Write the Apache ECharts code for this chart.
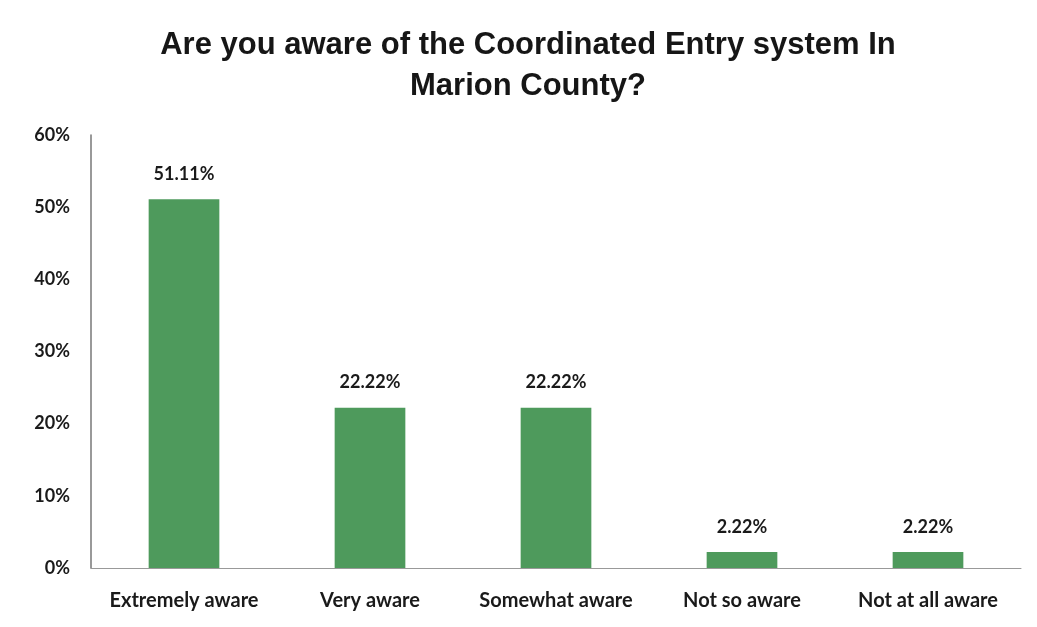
<!DOCTYPE html>
<html><head><meta charset="utf-8">
<script src="https://cdn.jsdelivr.net/npm/echarts@6/dist/echarts.min.js"></script>
<style>html,body{margin:0;padding:0;background:#fff}#c{width:1037px;height:627px}</style>
</head><body><div id="c"></div>
<script>
const categories = ['Extremely aware', 'Very aware', 'Somewhat aware', 'Not so aware', 'Not at all aware'];
const values = [51.11, 22.22, 22.22, 2.22, 2.22];
const yTicks = [0, 10, 20, 30, 40, 50, 60];

const chart = echarts.init(document.getElementById('c'));
chart.setOption({
  animation: false,
  title: {
    text: 'Are you aware of the Coordinated Entry system In\nMarion County?',
    left: 523, top: 20, textAlign: 'center',
    textStyle: { fontFamily: 'Liberation Sans', fontSize: 31, fontWeight: 'bold', color: '#161616', lineHeight: 41 }
  },
  grid: { left: 91, right: 16, top: 135, bottom: 59 },
  xAxis: {
    type: 'category', data: categories,
    axisLine: { lineStyle: { color: '#999', width: 1 } },
    axisTick: { show: false },
    axisLabel: { interval: 0, fontFamily: 'Lato', fontWeight: 'bold', fontSize: 20, color: '#1a1a1a', margin: 23 }
  },
  yAxis: {
    type: 'value', min: 0, max: 60, interval: 10,
    axisLine: { show: true, lineStyle: { color: '#777', width: 1.5 } },
    axisTick: { show: false },
    splitLine: { show: false },
    axisLabel: { formatter: v => yTicks.includes(v) ? v + '%' : '', fontFamily: 'Lato', fontWeight: 'bold', fontSize: 18, color: '#1a1a1a', margin: 21 }
  },
  series: [{
    type: 'bar', data: values, barWidth: '38%',
    itemStyle: { color: '#4e9a5c' },
    label: { show: true, position: 'top', distance: 16, formatter: p => p.value.toFixed(2) + '%',
      fontFamily: 'Lato', fontWeight: 'bold', fontSize: 18, color: '#1a1a1a' }
  }]
});
</script></body></html>
